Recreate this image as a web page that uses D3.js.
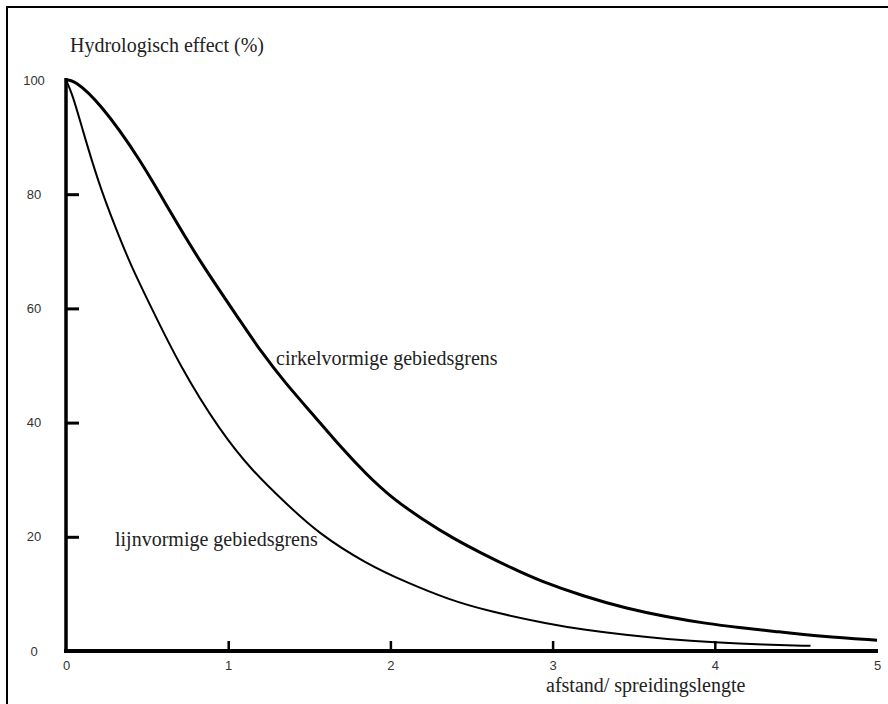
<!DOCTYPE html>
<html>
<head>
<meta charset="utf-8">
<script src="https://cdn.jsdelivr.net/npm/d3@7"></script>
<style>
  html, body { margin: 0; padding: 0; background: #fff; }
  svg { display: block; }
</style>
</head>
<body>
<svg id="chart" width="888" height="704"></svg>
<script>
// ---- data ----
const xTicks = [0, 1, 2, 3, 4, 5];
const yTicks = [0, 20, 40, 60, 80, 100];

const cirkelX = [0, 0.05, 0.21, 0.46, 0.64, 0.83, 1.07, 1.2, 1.35, 1.52, 1.7, 1.85, 2.0, 2.2, 2.4, 2.55, 2.75, 2.92, 3.2, 3.45, 3.7, 3.95, 4.15, 4.35, 4.66, 5.0];
const cirkelY = [100, 100, 96, 86, 77, 68, 58, 52.5, 47, 41.5, 35.5, 31, 27, 23, 19.5, 17.3, 14.5, 12.3, 9.5, 7.5, 6, 4.8, 4.1, 3.5, 2.5, 1.9];

const lijnX = [0, 0.04, 0.1, 0.2, 0.3, 0.4, 0.52, 0.7, 0.95, 1.15, 1.35, 1.56, 1.85, 2.1, 2.36, 2.6, 2.98, 3.2, 3.45, 3.7, 4.0, 4.3, 4.59];
const lijnY = [100, 97.5, 91.5, 82, 74.5, 67.5, 60.5, 50, 38.5, 31.5, 26, 20.5, 15.3, 12, 9, 7, 4.7, 3.7, 2.8, 2.1, 1.5, 1.1, 0.9];

const titleText = "Hydrologisch effect (%)";
const xTitleText = "afstand/ spreidingslengte";
const cirkelLabel = "cirkelvormige gebiedsgrens";
const lijnLabel = "lijnvormige gebiedsgrens";

// ---- drawing ----
const svg = d3.select("#chart");
const x = d3.scaleLinear().domain([0, 5]).range([66, 877]);
const y = d3.scaleLinear().domain([0, 100]).range([651, 80]);

// outer frame (top + left)
svg.append("path")
  .attr("d", "M7,704V7H888")
  .attr("fill", "none").attr("stroke", "#000").attr("stroke-width", 2);

const serif = "'Liberation Serif', 'Times New Roman', serif";
const sans = "'Liberation Sans', Arial, sans-serif";

// y axis
const yAxis = svg.append("g").attr("transform", `translate(${x(0)},0)`)
  .call(d3.axisLeft(y).tickValues(yTicks).tickSizeInner(-13).tickSizeOuter(0).tickPadding(32));
yAxis.select(".domain").attr("stroke", "#000").attr("stroke-width", 3.5)
  .attr("d", `M0,${y(0) + 2}V${y(100) - 2}`);
yAxis.selectAll(".tick line").attr("stroke", "#000").attr("stroke-width", 3)
  .filter(d => d === 0 || d === 100).remove();
yAxis.selectAll(".tick text")
  .attr("text-anchor", "middle").attr("x", -32)
  .attr("font-family", sans).attr("font-size", 13).attr("fill", "#333");

// x axis
const xAxis = svg.append("g").attr("transform", `translate(0,${y(0)})`)
  .call(d3.axisBottom(x).tickValues(xTicks).tickFormat(d3.format("d")).tickSizeInner(-10).tickSizeOuter(0).tickPadding(10));
xAxis.select(".domain").attr("stroke", "#000").attr("stroke-width", 4)
  .attr("d", `M${x(0) - 2},0H${x(5) + 1}`);
xAxis.selectAll(".tick line").attr("stroke", "#000").attr("stroke-width", 2.5)
  .filter(d => d === 0 || d === 5).remove();
xAxis.selectAll(".tick text")
  .attr("font-family", sans).attr("font-size", 13).attr("fill", "#333");

// curves
const line = d3.line().x(d => x(d[0])).y(d => y(d[1])).curve(d3.curveBasis);
const cirkel = cirkelX.map((v, i) => [v, cirkelY[i]]);
const lijn = lijnX.map((v, i) => [v, lijnY[i]]);

svg.append("path").datum(cirkel).attr("d", line)
  .attr("fill", "none").attr("stroke", "#000").attr("stroke-width", 3).attr("stroke-linejoin", "round");
svg.append("path").datum(lijn).attr("d", line)
  .attr("fill", "none").attr("stroke", "#000").attr("stroke-width", 2).attr("stroke-linejoin", "round");

// texts
svg.append("text").attr("x", 70).attr("y", 52).text(titleText)
  .attr("font-family", serif).attr("font-size", 20).attr("fill", "#222");
svg.append("text").attr("x", 546).attr("y", 692).text(xTitleText)
  .attr("font-family", serif).attr("font-size", 20).attr("fill", "#222");
svg.append("text").attr("x", 276).attr("y", 365).text(cirkelLabel)
  .attr("font-family", serif).attr("font-size", 20).attr("fill", "#222");
svg.append("text").attr("x", 115).attr("y", 546).text(lijnLabel)
  .attr("font-family", serif).attr("font-size", 20).attr("fill", "#222");
</script>
</body>
</html>
